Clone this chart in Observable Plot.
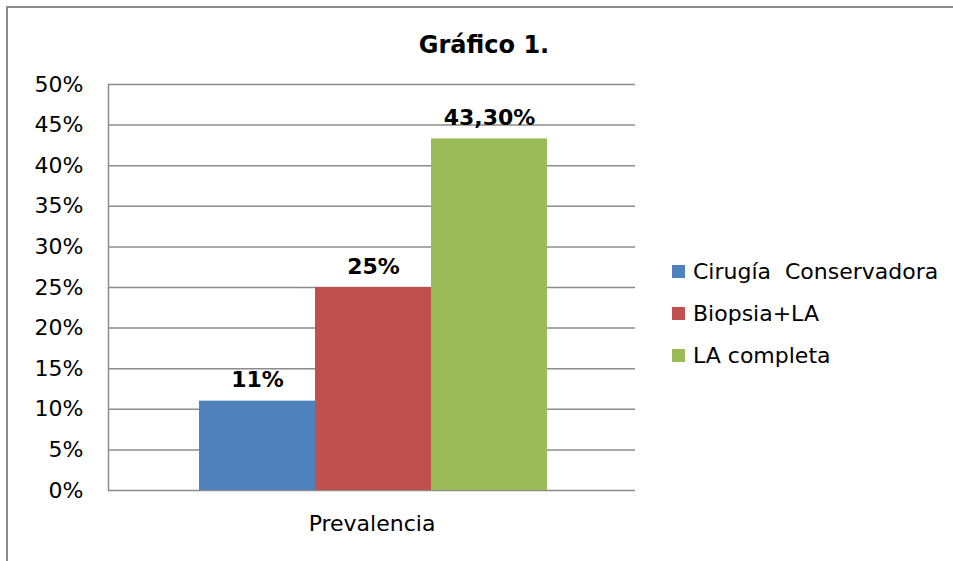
<!DOCTYPE html>
<html>
<head>
<meta charset="utf-8">
<script src="https://cdn.jsdelivr.net/npm/d3@7"></script>
<script src="https://cdn.jsdelivr.net/npm/@observablehq/plot@0.6"></script>
<style>
  html, body { margin: 0; padding: 0; background: #fff; overflow: hidden; }
  #wrap { position: relative; width: 953px; height: 561px; font-family: "DejaVu Sans", Verdana, sans-serif; }
  #border { position: absolute; left: 6px; top: 6px; width: 1100px; height: 1100px; border-left: 2px solid #8c8c8c; border-top: 2px solid #8c8c8c; }
  #title { position: absolute; left: 334px; width: 300px; top: 29px; text-align: center; font-weight: bold; font-size: 24px; line-height: 32px; }
  #chart { position: absolute; left: 0; top: 0; }
  #legend { position: absolute; left: 672px; top: 250px; font-size: 22px; }
  .row { display: flex; align-items: center; height: 42px; }
  .sw { width: 13px; height: 13px; margin-right: 8px; }
</style>
</head>
<body>
<div id="wrap">
  <div id="border"></div>
  <div id="chart"></div>
  <div id="title">Gráfico 1.</div>
  <div id="legend"></div>
</div>
<script>
const categories = ["Cirugía  Conservadora", "Biopsia+LA", "LA completa"];
const values = [0.11, 0.25, 0.433];
const labels = ["11%", "25%", "43,30%"];
const colors = ["#4F81BD", "#C0504D", "#9BBB59"];
const yTicks = [0, 0.05, 0.10, 0.15, 0.20, 0.25, 0.30, 0.35, 0.40, 0.45, 0.50];
const groupLabel = ["Prevalencia"];

const data = categories.map((c, i) => ({serie: c, value: values[i], label: labels[i]}));

const plot = Plot.plot({
  width: 953,
  height: 561,
  marginLeft: 108,
  marginRight: 318,
  marginTop: 84,
  marginBottom: 71,
  style: {fontFamily: "'DejaVu Sans', Verdana, sans-serif", fontSize: "22px", color: "#000", background: "transparent", overflow: "visible"},
  x: {domain: categories, range: [198, 548], padding: 0, axis: null},
  y: {domain: [0, 0.5]},
  color: {domain: categories, range: colors},
  marks: [
    Plot.ruleY(yTicks, {stroke: "#8c8c8c", strokeWidth: 1.5}),
    Plot.frame({anchor: "left", stroke: "#8c8c8c", strokeWidth: 1.5}),
    Plot.axisY(yTicks, {tickFormat: d3.format(".0%"), tickSize: 0, tickPadding: 25, label: null, fontSize: 22}),
    Plot.barY(data, {x: "serie", y: "value", fill: "serie"}),
    Plot.text(data, {x: "serie", y: "value", text: "label", dy: -21, fontWeight: "bold", fontSize: 22}),
    Plot.text(groupLabel, {frameAnchor: "bottom", dy: 40, text: d => d, fontSize: 22})
  ]
});
document.getElementById("chart").appendChild(plot);

const legend = document.getElementById("legend");
categories.forEach((c, i) => {
  const row = document.createElement("div");
  row.className = "row";
  const sw = document.createElement("div");
  sw.className = "sw";
  sw.style.background = colors[i];
  const t = document.createElement("span");
  t.textContent = c;
  t.style.whiteSpace = "pre";
  row.appendChild(sw);
  row.appendChild(t);
  legend.appendChild(row);
});
</script>
</body>
</html>
